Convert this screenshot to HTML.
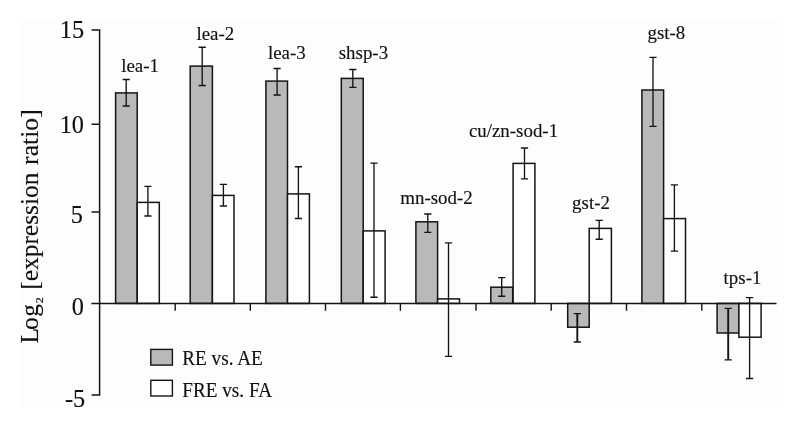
<!DOCTYPE html>
<html><head><meta charset="utf-8"><title>Figure</title>
<style>
html,body{margin:0;padding:0;background:#fff;}
body{width:785px;height:421px;overflow:hidden;}
svg{display:block;filter:blur(0.45px);}
text{font-family:"Liberation Serif","Times New Roman",serif;fill:#111;stroke:#111;stroke-width:0.15px;}
.lab{font-size:19.8px;text-anchor:middle;}
.yt{font-size:24.3px;text-anchor:end;}
.leg{font-size:20.1px;}
.ax{font-size:25.4px;}
</style></head><body>
<svg width="785" height="421" viewBox="0 0 785 421">
<rect x="0" y="0" width="785" height="421" fill="#ffffff"/>
<rect x="20.5" y="19.5" width="756" height="387" fill="#fdfdfd"/>
<rect x="115.6" y="92.9" width="21.6" height="210.5" fill="#b9b9b9" stroke="#141414" stroke-width="1.5"/>
<rect x="190.2" y="66.1" width="22.2" height="237.3" fill="#b9b9b9" stroke="#141414" stroke-width="1.5"/>
<rect x="265.9" y="81.1" width="21.6" height="222.3" fill="#b9b9b9" stroke="#141414" stroke-width="1.5"/>
<rect x="341.3" y="78.4" width="21.9" height="225.0" fill="#b9b9b9" stroke="#141414" stroke-width="1.5"/>
<rect x="415.9" y="221.8" width="21.7" height="81.6" fill="#b9b9b9" stroke="#141414" stroke-width="1.5"/>
<rect x="490.8" y="287.2" width="21.9" height="16.2" fill="#b9b9b9" stroke="#141414" stroke-width="1.5"/>
<rect x="567.7" y="303.4" width="21.5" height="23.8" fill="#b9b9b9" stroke="#141414" stroke-width="1.5"/>
<rect x="641.9" y="90.0" width="21.7" height="213.4" fill="#b9b9b9" stroke="#141414" stroke-width="1.5"/>
<rect x="717.1" y="303.4" width="21.8" height="29.6" fill="#b9b9b9" stroke="#141414" stroke-width="1.5"/>
<rect x="137.2" y="202.4" width="22.1" height="101.0" fill="#ffffff" stroke="#141414" stroke-width="1.5"/>
<rect x="212.4" y="195.4" width="21.6" height="108.0" fill="#ffffff" stroke="#141414" stroke-width="1.5"/>
<rect x="287.5" y="193.9" width="21.9" height="109.5" fill="#ffffff" stroke="#141414" stroke-width="1.5"/>
<rect x="363.2" y="230.9" width="21.9" height="72.5" fill="#ffffff" stroke="#141414" stroke-width="1.5"/>
<rect x="437.6" y="298.9" width="21.9" height="4.5" fill="#ffffff" stroke="#141414" stroke-width="1.5"/>
<rect x="513.1" y="163.4" width="21.8" height="140.0" fill="#ffffff" stroke="#141414" stroke-width="1.5"/>
<rect x="589.2" y="228.4" width="22.2" height="75.0" fill="#ffffff" stroke="#141414" stroke-width="1.5"/>
<rect x="663.6" y="218.6" width="21.9" height="84.8" fill="#ffffff" stroke="#141414" stroke-width="1.5"/>
<rect x="738.9" y="303.4" width="22.2" height="33.8" fill="#ffffff" stroke="#141414" stroke-width="1.5"/>
<path d="M99.6 29.3V395.8M91.6 30H99.6M91.6 124.2H99.6M91.6 211.9H99.6M91.3 303.5H776.5M91.6 395.1H100.3" fill="none" stroke="#141414" stroke-width="1.5"/>
<path d="M175.2 303.5V310.8M250.3 303.5V310.8M325.5 303.5V310.8M400.4 303.5V310.8M476.0 303.5V310.8M551.2 303.5V310.8M626.5 303.5V310.8M701.8 303.5V310.8" fill="none" stroke="#141414" stroke-width="1.4"/>
<path d="M122.6 79.5H129.8M122.6 106H129.8M126.2 79.5V106M144.3 186.3H151.5M144.3 216H151.5M147.9 186.3V216M198.6 47.2H205.8M198.6 85.5H205.8M202.2 47.2V85.5M219.8 184.3H227.0M219.8 206H227.0M223.4 184.3V206M273.5 68.5H280.7M273.5 95H280.7M277.1 68.5V95M294.8 166.7H302.0M294.8 218.5H302.0M298.4 166.7V218.5M349.2 69.5H356.4M349.2 87.4H356.4M352.8 69.5V87.4M370.4 163.1H377.6M370.4 297.2H377.6M374 163.1V297.2M424.2 214H431.4M424.2 232.3H431.4M427.8 214V232.3M444.9 242.8H452.1M444.9 356.4H452.1M448.5 242.8V356.4M498.1 277.6H505.3M498.1 296.2H505.3M501.7 277.6V296.2M520.9 148H528.1M520.9 178.8H528.1M524.5 148V178.8M573.7 313.6H580.9M573.7 342H580.9M595.6 220.3H602.8M595.6 239.2H602.8M599.2 220.3V239.2M649.4 57.3H656.6M649.4 126.4H656.6M653 57.3V126.4M670.8 184.9H678.0M670.8 251.1H678.0M674.4 184.9V251.1M724.6 308.4H731.8M724.6 359.8H731.8M746.0 297.6H753.2M746.0 378.5H753.2M749.6 297.6V378.5" fill="none" stroke="#141414" stroke-width="1.35"/>
<path d="M577.3 313.6V342M728.2 308.4V359.8" fill="none" stroke="#141414" stroke-width="1.9"/>
<text class="lab" transform="translate(140.05 71.6) scale(0.955 1)">lea-1</text>
<text class="lab" transform="translate(215.3 39.5) scale(0.955 1)">lea-2</text>
<text class="lab" transform="translate(286.8 58.9) scale(0.955 1)">lea-3</text>
<text class="lab" transform="translate(363.4 58.6) scale(0.955 1)">shsp-3</text>
<text class="lab" transform="translate(436.5 204.2) scale(0.955 1)">mn-sod-2</text>
<text class="lab" transform="translate(513.5 137.4) scale(0.955 1)">cu/zn-sod-1</text>
<text class="lab" transform="translate(591 208.9) scale(0.955 1)">gst-2</text>
<text class="lab" transform="translate(666.4 39.3) scale(0.955 1)">gst-8</text>
<text class="lab" transform="translate(742.5 284.2) scale(0.955 1)">tps-1</text>
<text class="yt" x="84.1" y="38.0">15</text>
<text class="yt" x="84.0" y="132.9">10</text>
<text class="yt" x="82.8" y="223.4">5</text>
<text class="yt" x="84.0" y="314.6">0</text>
<text class="yt" x="85.2" y="406.6">-5</text>
<rect x="150.8" y="349.4" width="21.6" height="15.7" fill="#b9b9b9" stroke="#141414" stroke-width="1.4"/>
<rect x="150.8" y="380.3" width="21.6" height="15.7" fill="#ffffff" stroke="#141414" stroke-width="1.4"/>
<text class="leg" transform="translate(182.3 364.7) scale(0.955 1)">RE vs. AE</text>
<text class="leg" transform="translate(182.3 396.6) scale(0.955 1)">FRE vs. FA</text>
<g transform="translate(38.1 343.5) rotate(-90)"><text class="ax" x="0 13.6 26.8" y="0">Log</text><text x="40.2" y="5.2" font-size="9.6px" textLength="6" lengthAdjust="spacingAndGlyphs" stroke="#111" stroke-width="0.25">2</text><text class="ax" x="53.8" y="0" style="font-size:25.4px">[expression</text><text class="ax" x="178.6" y="0" style="font-size:25.7px">ratio]</text></g>
</svg>
</body></html>
